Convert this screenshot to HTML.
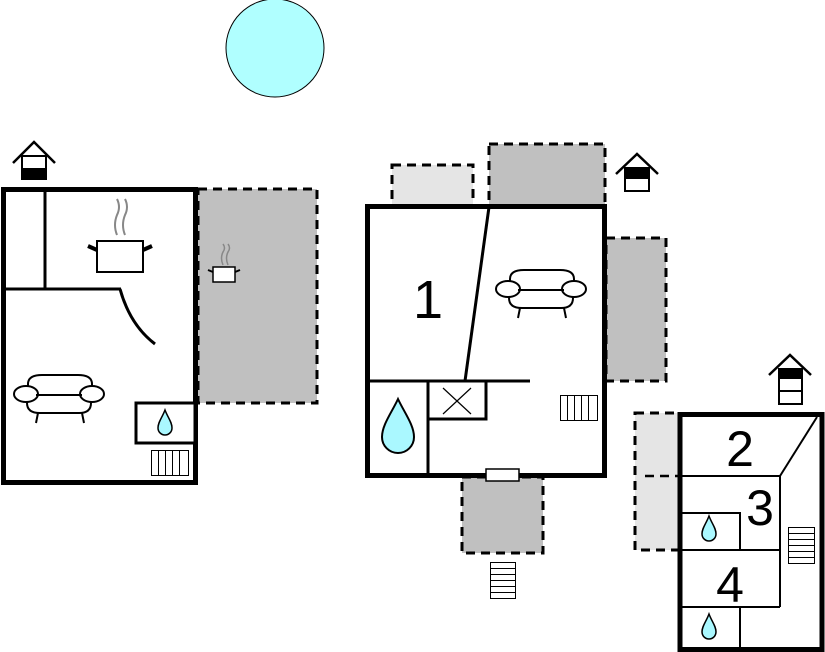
<!DOCTYPE html>
<html><head><meta charset="utf-8"><style>html,body{margin:0;padding:0;background:#fff}svg{display:block}</style></head>
<body>
<svg width="825" height="652" viewBox="0 0 825 652" xmlns="http://www.w3.org/2000/svg" font-family="Liberation Sans, sans-serif">
<defs>
<g id="sofa" fill="#fff" stroke="#000" stroke-width="2">
<path d="M27,395 L27,403 Q27,413 40,413 L79,413 Q91,413 91,403 L91,395 Z"/>
<path d="M28,395 L28,384 Q28,375 42,375 L78,375 Q92,375 92,384 L92,395 Z"/>
<ellipse cx="26" cy="394" rx="12" ry="8"/>
<ellipse cx="92" cy="394" rx="12" ry="8"/>
<line x1="38" y1="413" x2="36" y2="423"/><line x1="82" y1="413" x2="84" y2="423"/>
<line x1="36" y1="395" x2="82" y2="395"/>
</g>
<g id="drop"><path d="M0,0 C3,8 7,12 7,18 A7,7 0 0 1 -7,18 C-7,12 -3,8 0,0 Z" fill="#aaf8ff" stroke="#000" stroke-width="1.5"/></g>
</defs>
<circle cx="275" cy="48" r="49" fill="#b0ffff" stroke="#000" stroke-width="1"/>

<!-- left building -->
<rect x="198" y="189" width="119" height="214" fill="#c0c0c0" stroke="#000" stroke-width="3" stroke-dasharray="9,6"/>
<rect x="3.5" y="189.5" width="192" height="293" fill="#fff" stroke="#000" stroke-width="5"/>
<line x1="45" y1="190" x2="45" y2="289" stroke="#000" stroke-width="3"/>
<line x1="4" y1="289" x2="121" y2="289" stroke="#000" stroke-width="3"/>
<path d="M120,289 Q130,325 155,344" fill="none" stroke="#000" stroke-width="3"/>
<path d="M117,235 Q113,225 117,215 Q121,207 117,199 M125,235 Q121,225 125,215 Q129,207 125,199" fill="none" stroke="#888" stroke-width="2"/>
<rect x="97" y="241" width="46" height="31" fill="#fff" stroke="#000" stroke-width="2"/>
<path d="M97,250 L88,246 M143,250 L152,246" stroke="#000" stroke-width="4"/>
<path d="M223,265 Q220,258 223,252 Q226,248 223,244 M228,265 Q225,258 228,252 Q231,248 228,244" fill="none" stroke="#888" stroke-width="1.5"/>
<rect x="213" y="267" width="22" height="15" fill="#fff" stroke="#000" stroke-width="1.5"/>
<path d="M213,272 L208,270 M235,272 L240,270" stroke="#000" stroke-width="2"/>
<use href="#sofa"/>
<rect x="136" y="403" width="59" height="40" fill="#fff" stroke="#000" stroke-width="3"/>
<use href="#drop" x="165" y="410" transform="translate(0,0)"/>
<g stroke="#000" stroke-width="1" fill="#fff"><rect x="151.5" y="450.5" width="37" height="25"/>
<path d="M158.5,451V475M165.5,451V475M172.5,451V475M179.5,451V475"/></g>
<g><polyline points="13,163 34,142 55,163" fill="none" stroke="#000" stroke-width="2.5"/>
<rect x="22" y="156" width="24" height="23" fill="#fff" stroke="#000" stroke-width="2"/><rect x="22" y="168" width="24" height="12" fill="#000"/></g>

<!-- middle building -->
<rect x="392" y="165" width="81" height="41" fill="#e5e5e5" stroke="#000" stroke-width="3" stroke-dasharray="9,6"/>
<rect x="489" y="144" width="116" height="62" fill="#c0c0c0" stroke="#000" stroke-width="3" stroke-dasharray="9,6"/>
<rect x="606" y="238" width="60" height="143" fill="#c0c0c0" stroke="#000" stroke-width="3" stroke-dasharray="9,6"/>
<rect x="462" y="477" width="81" height="76" fill="#c0c0c0" stroke="#000" stroke-width="3" stroke-dasharray="9,6"/>
<rect x="367.5" y="206.5" width="237" height="269" fill="#fff" stroke="#000" stroke-width="5"/>
<line x1="489" y1="207" x2="465" y2="381" stroke="#000" stroke-width="3"/>
<line x1="368" y1="381" x2="530" y2="381" stroke="#000" stroke-width="3"/>
<line x1="428" y1="381" x2="428" y2="475" stroke="#000" stroke-width="3"/>
<rect x="428" y="381" width="58" height="38" fill="#fff" stroke="#000" stroke-width="3"/>
<path d="M443,388 L471,414 M471,388 L443,414" stroke="#000" stroke-width="1.2"/>
<path d="M398,399 C404,412 414,425 414,437 A16,16 0 0 1 382,437 C382,425 392,412 398,399 Z" fill="#aaf8ff" stroke="#000" stroke-width="2"/>
<text x="428" y="318" font-size="54" text-anchor="middle">1</text>
<use href="#sofa" transform="translate(482,-105)"/>
<g stroke="#000" stroke-width="1" fill="#fff"><rect x="560.5" y="395.5" width="37" height="25"/>
<path d="M567.5,396V420M574.5,396V420M581.5,396V420M588.5,396V420"/></g>
<rect x="486" y="469" width="33" height="12" fill="#fff" stroke="#000" stroke-width="1.5"/>
<g stroke="#000" stroke-width="1" fill="#fff"><rect x="490.5" y="562.5" width="25" height="36"/>
<path d="M491,568.5H515M491,574.5H515M491,580.5H515M491,586.5H515M491,592.5H515"/></g>
<g><polyline points="616,174 637,154 658,174" fill="none" stroke="#000" stroke-width="2.5"/>
<rect x="625" y="168" width="24" height="23" fill="#fff" stroke="#000" stroke-width="2"/><rect x="625" y="168" width="24" height="11" fill="#000"/></g>

<!-- right building -->
<rect x="635" y="413" width="44" height="137" fill="#e5e5e5" stroke="#000" stroke-width="3" stroke-dasharray="9,6"/>
<line x1="645" y1="476" x2="678" y2="476" stroke="#000" stroke-width="2.5" stroke-dasharray="9,6"/>
<rect x="680" y="414.5" width="142" height="235" fill="#fff" stroke="#000" stroke-width="5"/>
<line x1="680" y1="476" x2="780" y2="476" stroke="#000" stroke-width="2"/>
<line x1="780" y1="476" x2="817" y2="417" stroke="#000" stroke-width="2"/>
<line x1="780" y1="476" x2="780" y2="607" stroke="#000" stroke-width="2"/>
<rect x="680" y="513" width="60" height="37" fill="none" stroke="#000" stroke-width="2"/>
<line x1="680" y1="550" x2="780" y2="550" stroke="#000" stroke-width="2"/>
<line x1="680" y1="607" x2="780" y2="607" stroke="#000" stroke-width="2"/>
<line x1="740" y1="607" x2="740" y2="649" stroke="#000" stroke-width="2"/>
<use href="#drop" x="709" y="516"/>
<use href="#drop" x="709" y="614"/>
<text x="740" y="466" font-size="50" text-anchor="middle">2</text>
<text x="760" y="525" font-size="50" text-anchor="middle">3</text>
<text x="730" y="602" font-size="50" text-anchor="middle">4</text>
<g stroke="#000" stroke-width="1" fill="#fff"><rect x="788.5" y="527.5" width="26" height="36"/>
<path d="M789,533.5H814M789,539.5H814M789,545.5H814M789,551.5H814M789,557.5H814"/></g>
<g><polyline points="769,375 790,355 811,375" fill="none" stroke="#000" stroke-width="2.5"/>
<rect x="779" y="369" width="23" height="35" fill="#fff" stroke="#000" stroke-width="2"/><rect x="779" y="369" width="23" height="10" fill="#000"/>
<line x1="779" y1="391" x2="802" y2="391" stroke="#000" stroke-width="2"/></g>
</svg>
</body></html>
